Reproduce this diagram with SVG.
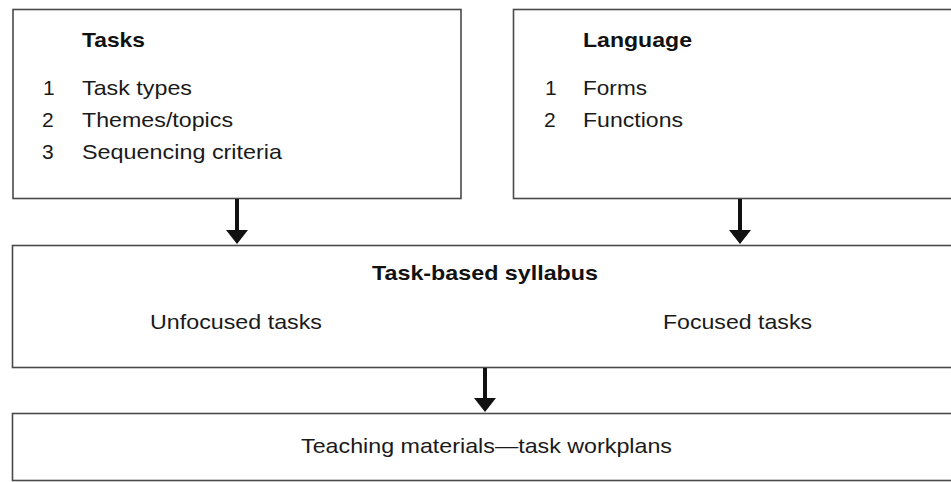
<svg xmlns="http://www.w3.org/2000/svg" width="951" height="482" viewBox="0 0 951 482">
<style>
.box{fill:#fff;stroke:#4a4a4a;stroke-width:1.6}
.t{font-family:"Liberation Sans",Arial,Helvetica,sans-serif;font-size:21px;fill:#1a1a1a}
.b{font-weight:bold;fill:#111}
.arr{fill:#111}
</style>
<defs>
<g id="arrowHead"><polygon points="-11,0 11,0 0,14"/></g>
</defs>
<rect width="951" height="482" fill="#fff"/>
<g id="tasks">
<rect class="box" x="13" y="9.5" width="448" height="189"/>
<text class="t b" x="82" y="47" textLength="63" lengthAdjust="spacingAndGlyphs">Tasks</text>
<text class="t" x="43" y="95">1</text>
<text class="t" x="82" y="95" textLength="110" lengthAdjust="spacingAndGlyphs">Task types</text>
<text class="t" x="42" y="127">2</text>
<text class="t" x="82" y="127" textLength="151" lengthAdjust="spacingAndGlyphs">Themes/topics</text>
<text class="t" x="42" y="159">3</text>
<text class="t" x="82" y="159" textLength="200" lengthAdjust="spacingAndGlyphs">Sequencing criteria</text>
</g>
<g id="language">
<rect class="box" x="513.5" y="9.5" width="445" height="189"/>
<text class="t b" x="583" y="47" textLength="109" lengthAdjust="spacingAndGlyphs">Language</text>
<text class="t" x="545" y="95">1</text>
<text class="t" x="583" y="95" textLength="64" lengthAdjust="spacingAndGlyphs">Forms</text>
<text class="t" x="544" y="127">2</text>
<text class="t" x="583" y="127" textLength="100" lengthAdjust="spacingAndGlyphs">Functions</text>
</g>
<g id="syllabus">
<rect class="box" x="12.5" y="245.5" width="946" height="122"/>
<text class="t b" x="372" y="280" textLength="226" lengthAdjust="spacingAndGlyphs">Task-based syllabus</text>
<text class="t" x="150" y="329" textLength="172" lengthAdjust="spacingAndGlyphs">Unfocused tasks</text>
<text class="t" x="663" y="329" textLength="149" lengthAdjust="spacingAndGlyphs">Focused tasks</text>
</g>
<g id="materials">
<rect class="box" x="12.5" y="413.5" width="946" height="67"/>
<text class="t" x="301" y="453" textLength="371" lengthAdjust="spacingAndGlyphs">Teaching materials—task workplans</text>
</g>
<g id="connectors" class="arr">
<rect x="235" y="199" width="4" height="32"/>
<use href="#arrowHead" x="237" y="230"/>
<rect x="738" y="199" width="4" height="32"/>
<use href="#arrowHead" x="740" y="230"/>
<rect x="483" y="368" width="4" height="31"/>
<use href="#arrowHead" x="485" y="398"/>
</g>
</svg>
